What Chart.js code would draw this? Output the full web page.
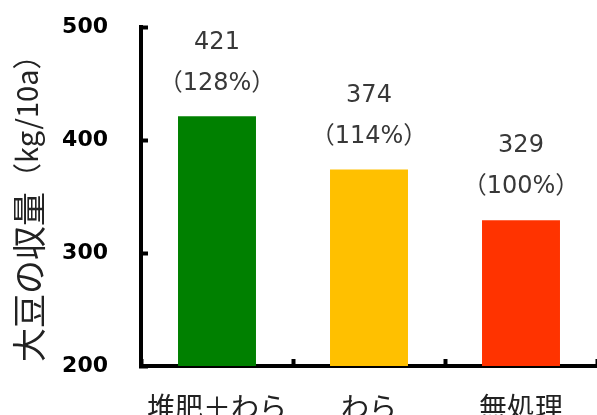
<!DOCTYPE html>
<html>
<head>
<meta charset="utf-8">
<script src="https://cdn.jsdelivr.net/npm/chart.js@4.4.0/dist/chart.umd.min.js"></script>
<style>
  html, body { margin: 0; padding: 0; background: #fff; }
  .container { width: 597px; height: 415px; position: relative; }
</style>
</head>
<body>
<div class="container">
  <canvas id="yieldChart"></canvas>
</div>
<script>
  // data
  const categories = ["堆肥＋わら", "わら", "無処理"];
  const yieldValues = [421, 374, 329];
  const ratioLabels = ["128%", "114%", "100%"];
  const barColors = ["#008000", "#FFC000", "#FF3300"];
  const yTicks = [200, 300, 400, 500];

  const titleMain = "大豆の収量";
  const titleUnit = "（kg/10a）";

  // ---------------------------
  // value + ratio over each bar
  // ---------------------------
  const barLabels = {
    id: "barLabels",
    afterDatasetsDraw(chart) {
      const ctx = chart.ctx;
      const meta = chart.getDatasetMeta(0);
      ctx.save();
      ctx.fillStyle = "#383838";
      ctx.textAlign = "center";
      ctx.textBaseline = "middle";
      ctx.font = "24px 'DejaVu Sans', 'Noto Sans CJK JP'";
      meta.data.forEach((bar, i) => {
        ctx.fillText(String(yieldValues[i]), bar.x, bar.y - 74);
        ctx.fillText("（" + ratioLabels[i] + "）", bar.x, bar.y - 33);
      });
      ctx.restore();
    }
  };

  // ---------------------------
  // vertical axis title, two sizes
  // ---------------------------
  const yTitle = {
    id: "yTitle",
    afterDraw(chart) {
      const ctx = chart.ctx;
      ctx.save();
      ctx.translate(29, 362);
      ctx.rotate(-Math.PI / 2);
      ctx.fillStyle = "#222";
      ctx.textAlign = "left";
      ctx.textBaseline = "middle";
      ctx.font = "34px 'Noto Sans CJK JP'";
      ctx.fillText(titleMain, 0, 0);
      const w = ctx.measureText(titleMain).width;
      ctx.font = "29px 'Noto Sans CJK JP'";
      ctx.fillText(titleUnit, w, -2);
      ctx.restore();
    }
  };

  new Chart(document.getElementById("yieldChart"), {
    type: "bar",
    data: {
      labels: categories,
      datasets: [{
        data: yieldValues,
        backgroundColor: barColors,
        borderWidth: 0,
        barPercentage: 0.513,
        categoryPercentage: 1
      }]
    },
    options: {
      responsive: true,
      maintainAspectRatio: false,
      animation: false,
      layout: { padding: { top: 27, right: 0, left: 0, bottom: 0 } },
      plugins: {
        legend: { display: false },
        tooltip: { enabled: false }
      },
      scales: {
        x: {
          grid: {
            drawOnChartArea: false,
            offset: true,
            tickLength: -7,
            tickWidth: 4,
            tickColor: "#000"
          },
          border: { color: "#000", width: 4 },
          ticks: {
            color: "#222",
            font: { family: "'Noto Sans CJK JP'", size: 28 },
            padding: 32,
            maxRotation: 0,
            autoSkip: false
          },
          afterFit(scale) {
            scale.height = 49;
            scale.paddingLeft = 0;
            scale.paddingRight = 0;
          }
        },
        y: {
          min: 200,
          max: 500,
          afterBuildTicks(scale) {
            scale.ticks = yTicks.map(v => ({ value: v }));
          },
          grid: {
            drawOnChartArea: false,
            tickLength: -7,
            tickWidth: 4,
            tickColor: "#000"
          },
          border: { color: "#000", width: 4 },
          ticks: {
            color: "#000",
            font: { family: "'DejaVu Sans'", weight: "bold", size: 22 },
            padding: 40
          },
          afterFit(scale) {
            scale.width = 141;
            scale.paddingTop = 0;
            scale.paddingBottom = 0;
          }
        }
      }
    },
    plugins: [barLabels, yTitle]
  });
</script>
</body>
</html>
